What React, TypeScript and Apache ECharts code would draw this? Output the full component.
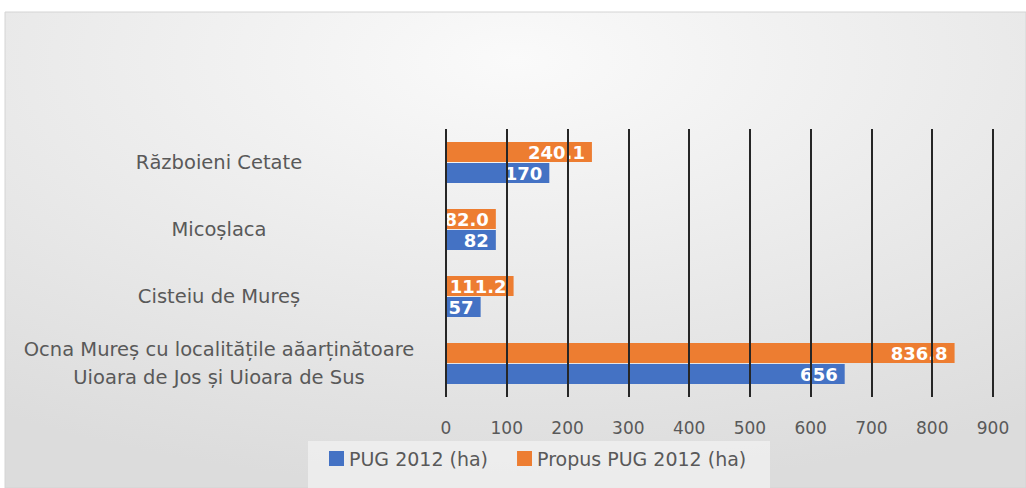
import React, { useEffect, useRef } from "react";
import * as echarts from "echarts";

const categories = [
  "Ocna Mureș cu localitățile aăarținătoare\nUioara de Jos și Uioara de Sus",
  "Cisteiu de Mureș",
  "Micoșlaca",
  "Războieni Cetate",
];
const seriesNames = ["PUG 2012 (ha)", "Propus PUG 2012 (ha)"];
const pugValues = [656, 57, 82, 170];
const propusValues = [836.8, 111.2, 82.0, 240.1];
const xMin = 0;
const xMax = 900;
const xInterval = 100;

const FONT = "DejaVu Sans";

export default function App() {
  const ref = useRef<HTMLDivElement>(null);
  useEffect(() => {
    if (!ref.current) return;
    const chart = echarts.init(ref.current, null, { renderer: "svg" });
    const labelBase = {
      show: true,
      position: "insideRight",
      color: "#ffffff",
      fontWeight: "bold",
      fontSize: 18,
      fontFamily: FONT,
      distance: 7,
    };
    chart.setOption({
      animation: false,
      backgroundColor: "#ffffff",
      graphic: [
        {
          type: "rect",
          z: -10,
          silent: true,
          shape: { x: 5, y: 12, width: 1021, height: 476 },
          style: {
            fill: {
              type: "radial",
              x: 0.5,
              y: 0.1,
              r: 0.9,
              colorStops: [
                { offset: 0, color: "#fafafa" },
                { offset: 1, color: "#dcdcdc" },
              ],
            },
            stroke: "#d4d4d4",
            lineWidth: 1,
          },
        },
        {
          type: "rect",
          z: -9,
          silent: true,
          shape: { x: 308, y: 441, width: 462, height: 47 },
          style: { fill: "rgba(240,240,240,0.8)" },
        },
      ],
      grid: { left: 446, right: 33, top: 129, bottom: 91, containLabel: false },
      legend: {
        data: seriesNames,
        left: 324,
        top: 444,
        itemWidth: 15,
        itemHeight: 15,
        itemGap: 29,
        icon: "rect",
        textStyle: { color: "#595959", fontSize: 19, fontFamily: FONT },
      },
      xAxis: {
        type: "value",
        min: xMin,
        max: xMax,
        interval: xInterval,
        z: 5,
        axisLine: { show: false },
        axisTick: { show: false },
        splitLine: { show: true, lineStyle: { color: "#262626", width: 2 } },
        axisLabel: { color: "#595959", fontSize: 17, fontFamily: FONT, margin: 22 },
      },
      yAxis: {
        type: "category",
        data: categories,
        axisLine: { show: false },
        axisTick: { show: false },
        axisLabel: {
          color: "#595959",
          fontSize: 19.5,
          fontFamily: FONT,
          align: "center",
          margin: 227,
          lineHeight: 28,
        },
      },
      series: [
        {
          name: seriesNames[1],
          type: "bar",
          data: propusValues,
          barWidth: 20,
          barGap: "5%",
          itemStyle: { color: "#ED7D31" },
          label: {
            ...labelBase,
            formatter: (p: any) => Number(p.value).toFixed(1),
          },
        },
        {
          name: seriesNames[0],
          type: "bar",
          data: pugValues,
          barWidth: 20,
          barGap: "5%",
          itemStyle: { color: "#4472C4" },
          label: { ...labelBase },
        },
      ],
    });
    return () => chart.dispose();
  }, []);
  return (
    <div
      ref={ref}
      style={{ position: "fixed", left: 0, top: 0, width: 1026, height: 488 }}
    />
  );
}
